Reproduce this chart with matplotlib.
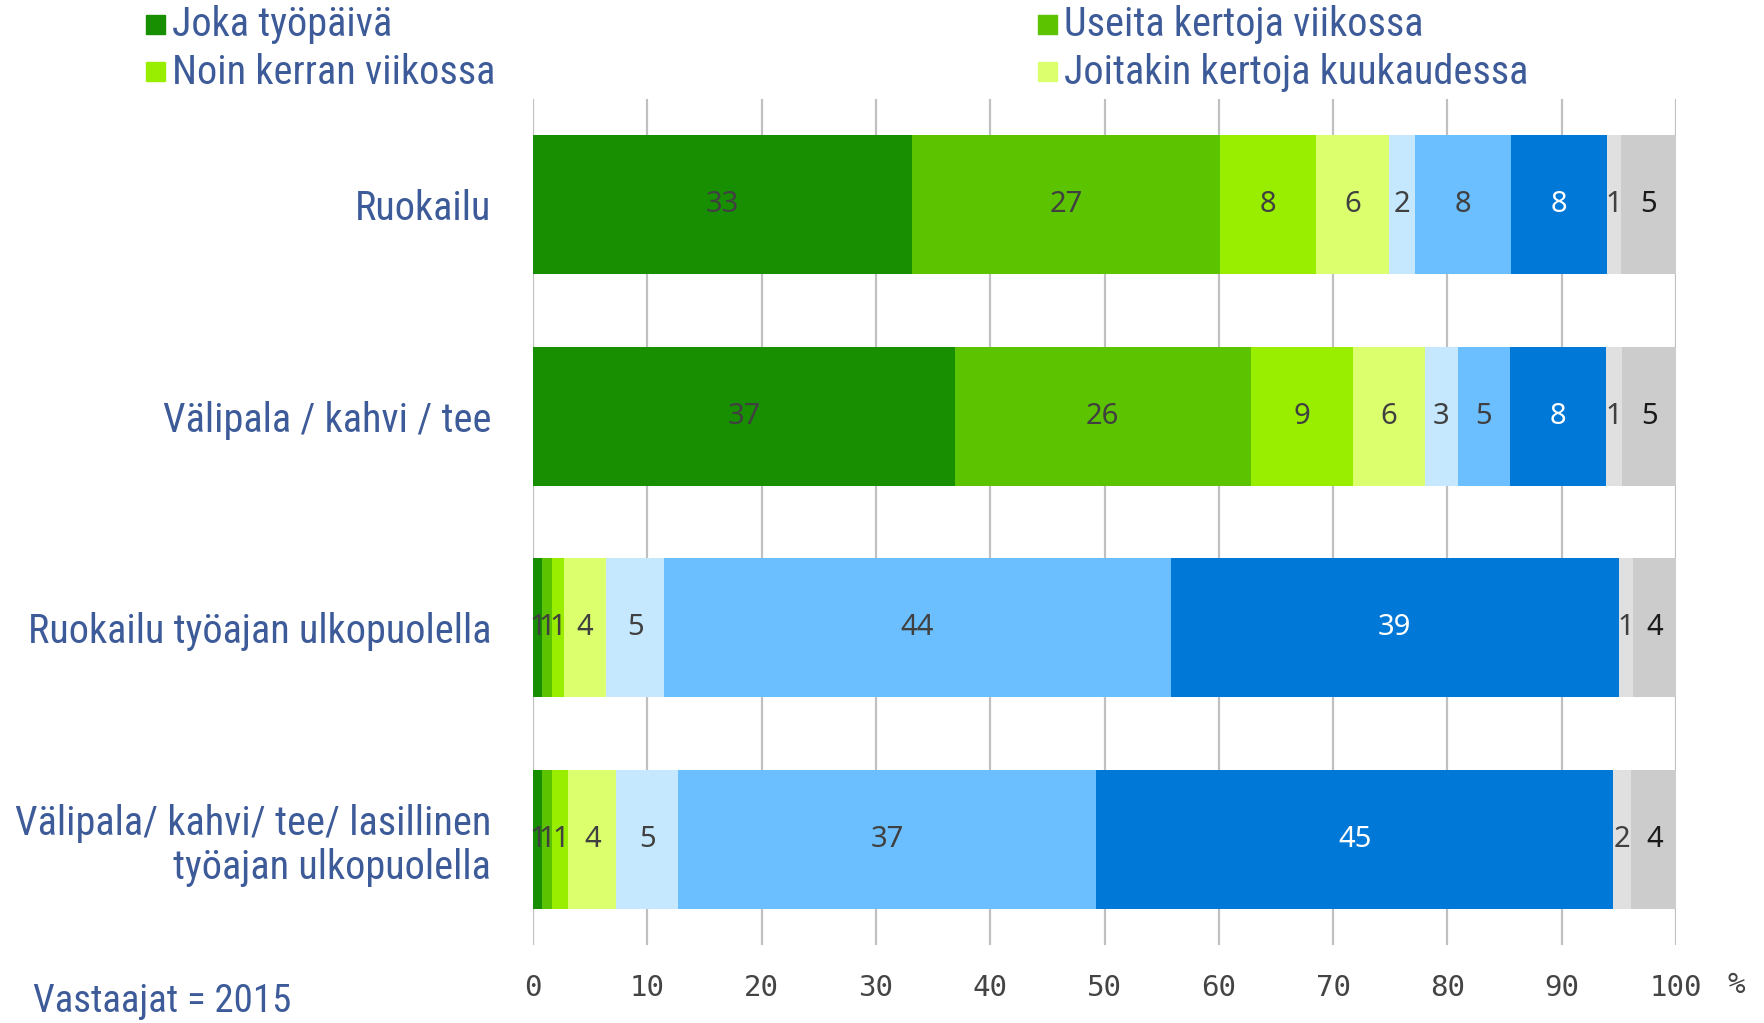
import numpy as np
import matplotlib
matplotlib.use("Agg")
import matplotlib.pyplot as plt
from matplotlib.patches import Rectangle
from matplotlib import font_manager

# data
categories = [
    "Ruokailu",
    "Välipala / kahvi / tee",
    "Ruokailu työajan ulkopuolella",
    "Välipala/ kahvi/ tee/ lasillinen\ntyöajan ulkopuolella",
]
series_names = [
    "Joka työpäivä",
    "Useita kertoja viikossa",
    "Noin kerran viikossa",
    "Joitakin kertoja kuukaudessa",
    "Harvemmin",
    "Ei juuri koskaan",
    "Ei koskaan",
    "En osaa sanoa",
    "Ei vastausta",
]
s1 = [33.2, 36.9, 0.8, 0.8]
s2 = [26.9, 25.9, 0.9, 0.9]
s3 = [8.4, 8.9, 1.0, 1.4]
s4 = [6.4, 6.3, 3.7, 4.2]
s5 = [2.3, 2.9, 5.1, 5.4]
s6 = [8.4, 4.6, 44.3, 36.6]
s7 = [8.4, 8.4, 39.2, 45.2]
s8 = [1.2, 1.4, 1.2, 1.6]
s9 = [4.8, 4.8, 3.8, 4.0]
series = [s1, s2, s3, s4, s5, s6, s7, s8, s9]
colors = ["#178f00", "#5cc300", "#99ee00", "#dcff6e", "#c5e8ff",
          "#6bbfff", "#0078d7", "#e0e0e0", "#cccccc"]
label_colors = ["#404040"] * 6 + ["white", "#404040", "#1a1a1a"]
xticks = list(range(0, 101, 10))
respondents = "Vastaajat = 2015"

# pick a narrow font if one is around
installed = {f.name for f in font_manager.fontManager.ttflist}
txt_font = "Roboto"
scale = 0.89
for cand in ["Roboto Condensed", "Liberation Sans Narrow", "Open Sans Condensed"]:
    if cand in installed:
        txt_font, scale = cand, 1.0
        break

W, H = 1764, 1023
fig = plt.figure(figsize=(W / 100, H / 100), dpi=100)
ax = fig.add_axes([533 / W, 1 - 945 / H, (1676 - 533) / W, (945 - 99) / H])

num_font = ["Noto Sans", "DejaVu Sans"]
blue = "#3d5a99"

y = np.arange(len(categories))
left = np.zeros(len(categories))
for vals, col, lcol in zip(series, colors, label_colors):
    vals = np.array(vals)
    ax.barh(y, vals, left=left, height=0.655, color=col, zorder=2)
    for yi, (l, v) in enumerate(zip(left, vals)):
        ax.text(l + v / 2, yi, f"{round(v)}", ha="center", va="center",
                fontsize=21, color=lcol, family=num_font, zorder=3)
    left += vals

ax.set_xlim(0, 100)
ax.set_ylim(3.5, -0.5)
ax.set_xticks(xticks)
ax.set_xticklabels([str(t) for t in xticks], family="DejaVu Sans Mono",
                   fontsize=21, color="#444444")
ax.set_yticks(y)
ax.set_yticklabels(categories, family=txt_font, fontsize=29 * scale,
                   color=blue, linespacing=1.15)
ax.tick_params(axis="x", length=0, pad=21)
ax.tick_params(axis="y", length=0, pad=30)
ax.grid(axis="x", color="#c0c0c0", linewidth=1.6, zorder=0)
ax.set_axisbelow(True)
for s in ax.spines.values():
    s.set_visible(False)

fig.text(1736 / W, 1 - 985 / H, "%", ha="center", va="center",
         family="DejaVu Sans Mono", fontsize=21, color="#444444")
fig.text(33 / W, 1 - 1001 / H, respondents, ha="left", va="center",
         family=txt_font, fontsize=28 * scale, color=blue)

# legend (only the first four series are shown)
legend_pos = [(146, 25), (1038, 25), (146, 72), (1038, 72)]
for (px, py), name, col in zip(legend_pos, series_names[:4], colors[:4]):
    fig.add_artist(Rectangle((px / W, 1 - (py + 9) / H), 19 / W, 19 / H,
                             transform=fig.transFigure, color=col))
    fig.text((px + 26) / W, 1 - py / H, name, ha="left", va="center",
             family=txt_font, fontsize=29 * scale, color=blue)

fig.savefig("out.png", dpi=100)
